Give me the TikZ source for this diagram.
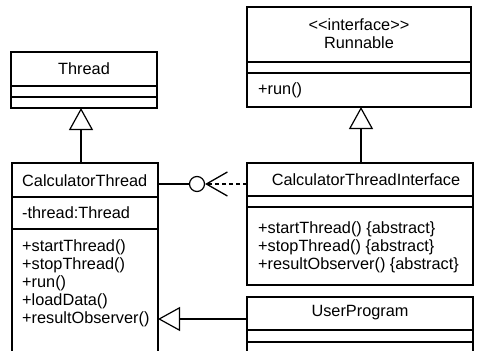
\documentclass[tikz,border=0pt]{standalone}
\usepackage{fontspec}
\setmainfont{Liberation Sans}
\usetikzlibrary{arrows.meta}
\begin{document}
\begin{tikzpicture}[x=1pt,y=-1pt,
  box/.style={draw, line width=1.2pt, rectangle, inner sep=0pt, outer sep=0pt, anchor=north west},
  sep/.style={line width=1.2pt},
  lbl/.style={font=\fontsize{16.3}{19}\selectfont, inner sep=0pt},
  lbll/.style={lbl, anchor=west},
  gen/.style={line width=1.1pt, -{Triangle[open, length=22pt, width=24pt, line width=1.2pt]}},
  real/.style={line width=1.1pt, dash pattern=on 4pt off 3pt, -{Straight Barb[length=21pt, width=24pt, line width=1.3pt]}},
  ball/.style={circle, draw, line width=1.2pt, minimum size=15pt, inner sep=0pt}]
\clip (0,0) rectangle (480,351);
\fill[white] (0,0) rectangle (480,351);

% Thread
\node[box, minimum width=146pt, minimum height=56pt] (thread) at (11,52) {};
\draw[sep] (thread.west |- 0,86) -- (thread.east |- 0,86);
\draw[sep] (thread.west |- 0,97) -- (thread.east |- 0,97);
\node[lbl] (threadname) at (84,69) {Thread};

% Runnable
\node[box, minimum width=224pt, minimum height=100pt] (runnable) at (247,7) {};
\draw[sep] (runnable.west |- 0,62) -- (runnable.east |- 0,62);
\draw[sep] (runnable.west |- 0,73) -- (runnable.east |- 0,73);
\node[lbl] (stereo) at (359,25) {<{}<interface>{}>};
\node[lbl] (runname) at (359,43) {Runnable};
\node[lbll] (runop) at (258,90) {+run()};

% CalculatorThread
\node[box, minimum width=146pt, minimum height=200pt] (ct) at (12,163) {};
\draw[sep] (ct.west |- 0,197) -- (ct.east |- 0,197);
\draw[sep] (ct.west |- 0,229) -- (ct.east |- 0,229);
\node[lbll] (ctname) at (22,181) {CalculatorThread};
\node[lbll] (ctattr) at (22,213) {-thread:Thread};
\node[lbll] (ctop1) at (22,247) {+startThread()};
\node[lbll] (ctop2) at (22,265) {+stopThread()};
\node[lbll] (ctop3) at (22,283) {+run()};
\node[lbll] (ctop4) at (22,301) {+loadData()};
\node[lbll] (ctop5) at (22,319) {+resultObserver()};

% CalculatorThreadInterface
\node[box, minimum width=226pt, minimum height=122pt] (cti) at (247,163) {};
\draw[sep] (cti.west |- 0,196) -- (cti.east |- 0,196);
\draw[sep] (cti.west |- 0,207) -- (cti.east |- 0,207);
\node[lbl] (ctiname) at (366,180) {CalculatorThreadInterface};
\node[lbll] (ctiop1) at (258,229) {+startThread() \{abstract\}};
\node[lbll] (ctiop2) at (258,247) {+stopThread() \{abstract\}};
\node[lbll] (ctiop3) at (258,265) {+resultObserver() \{abstract\}};

% UserProgram
\node[box, minimum width=226pt, minimum height=80pt] (up) at (247,297) {};
\draw[sep] (up.west |- 0,330) -- (up.east |- 0,330);
\draw[sep] (up.west |- 0,342) -- (up.east |- 0,342);
\node[lbl] (upname) at (360,313) {UserProgram};

% generalizations
\draw[gen] (ct.north -| 81,0) -- (thread.south -| 81,0);
\draw[gen] (cti.north -| 361,0) -- (runnable.south -| 361,0);
\draw[gen] (up.west |- 0,319) -- (ct.east |- 0,319);

% interface ball and realization
\node[ball] (lolli) at (197,184) {};
\draw[sep] (ct.east |- lolli) -- (lolli.west);
\draw[real] (cti.west |- lolli) -- (lolli.east);
\end{tikzpicture}
\end{document}
